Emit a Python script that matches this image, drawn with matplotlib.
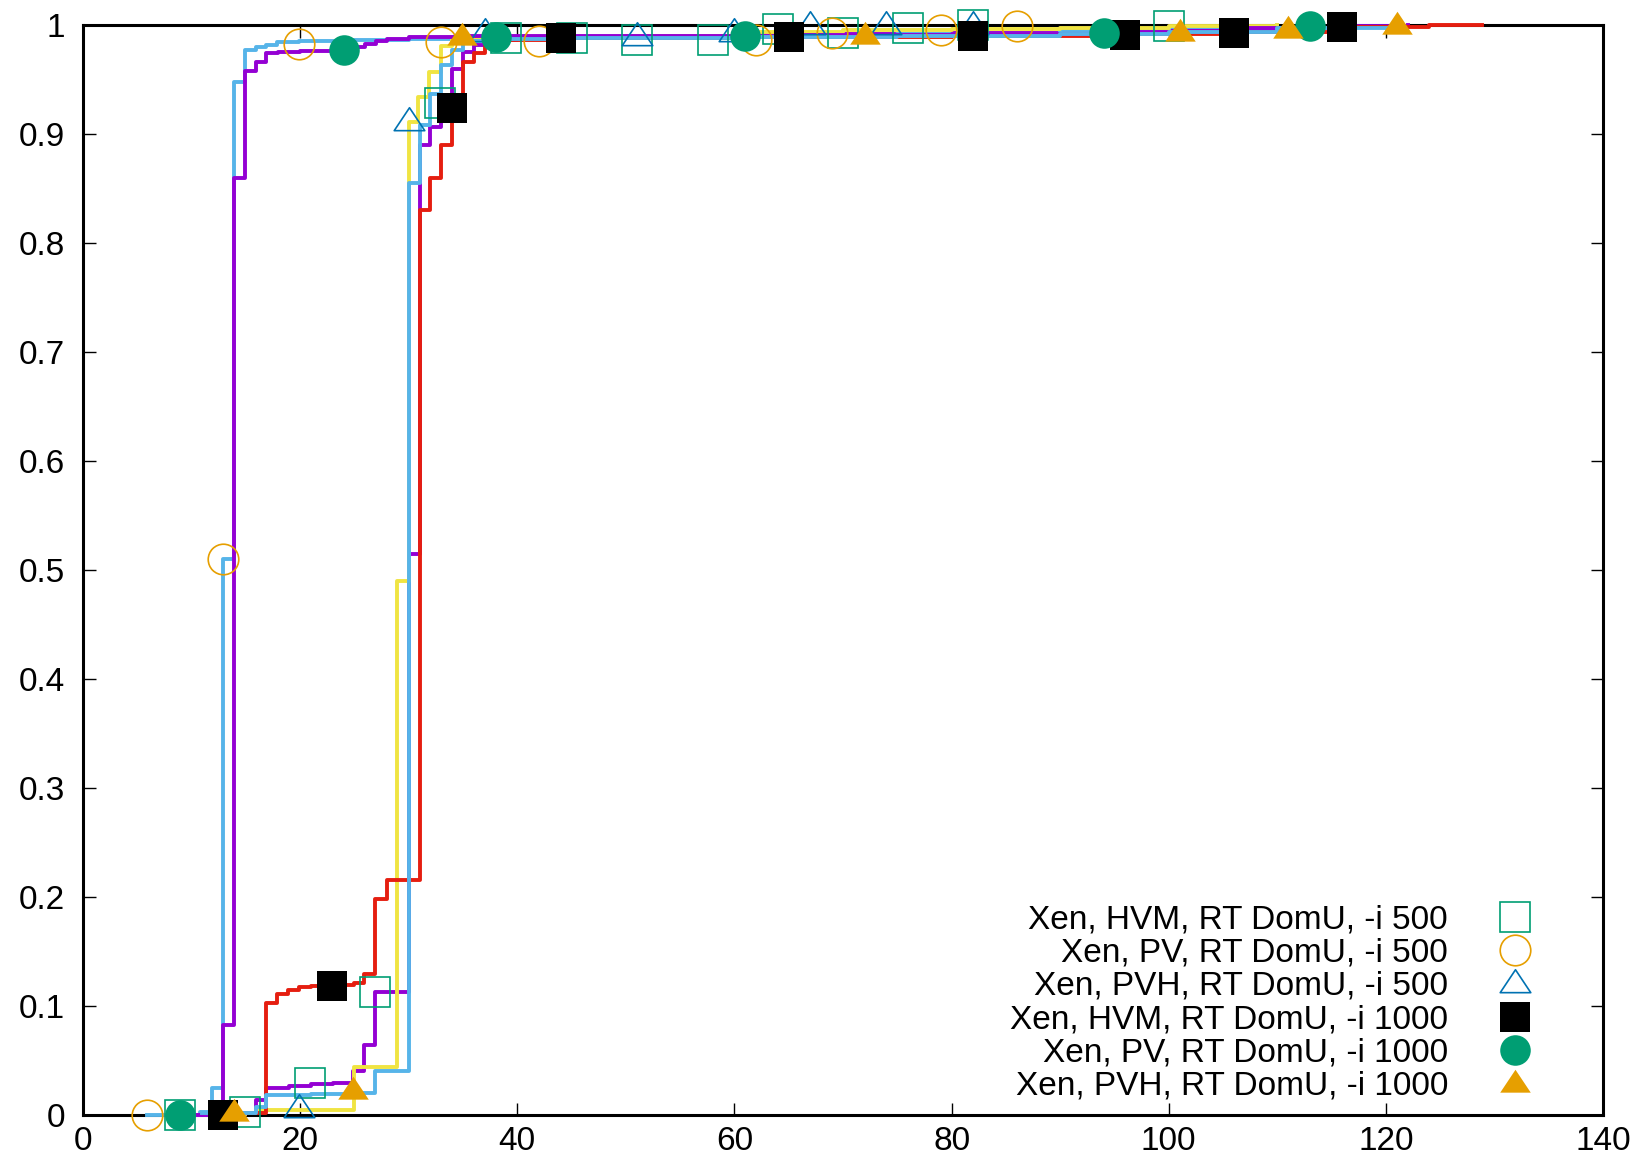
import matplotlib
matplotlib.use("Agg")
import matplotlib.pyplot as plt
from matplotlib.path import Path
from matplotlib.lines import Line2D
from matplotlib.ticker import FuncFormatter, MultipleLocator

plt.rcParams['font.family'] = ['Liberation Sans', 'DejaVu Sans']

# ---------------- data (CDF step curves) ----------------
labels = ["Xen, HVM, RT DomU, -i 500", "Xen, PV, RT DomU, -i 500",
          "Xen, PVH, RT DomU, -i 500", "Xen, HVM, RT DomU, -i 1000",
          "Xen, PV, RT DomU, -i 1000", "Xen, PVH, RT DomU, -i 1000"]

hvm500_x = [8.9, 14.9, 15.9, 16.9, 19, 21, 23, 24.9, 25.9, 26.9, 30, 31, 32, 33, 34, 35, 36, 37, 40, 50, 60, 70, 80, 95, 105, 115, 122]
hvm500_y = [0.0, 0.002, 0.014, 0.025, 0.027, 0.028, 0.029, 0.04, 0.064, 0.113, 0.515, 0.89, 0.906, 0.928, 0.96, 0.975, 0.982, 0.986, 0.988, 0.99, 0.991, 0.992, 0.993, 0.995, 0.997, 0.999, 1.0]

pv500_x = [5.9, 10.8, 11.9, 12.9, 13.9, 14.9, 15.9, 16.9, 17.9, 19.9, 25, 30, 35, 45, 60, 75, 90, 100, 110]
pv500_y = [0.0, 0.003, 0.025, 0.51, 0.948, 0.977, 0.980, 0.982, 0.984, 0.985, 0.986, 0.987, 0.988, 0.989, 0.99, 0.992, 0.995, 0.998, 1.0]

pvh500_x = [13.0, 14.9, 15.9, 25.0, 28.9, 30.0, 30.9, 31.9, 33.0, 34, 36, 40, 50, 60, 70, 80, 90, 100, 110]
pvh500_y = [0.0, 0.002, 0.005, 0.044, 0.49, 0.911, 0.934, 0.957, 0.981, 0.986, 0.988, 0.989, 0.99, 0.994, 0.995, 0.996, 0.997, 0.999, 1.0]

hvm1000_x = [12.9, 16.9, 17.9, 18.9, 19.9, 21, 23, 25, 25.9, 26.9, 28, 31, 32, 33, 34, 35, 36, 37, 38, 45, 60, 80, 95, 105, 115, 124, 128.9]
hvm1000_y = [0.002, 0.103, 0.111, 0.115, 0.117, 0.118, 0.119, 0.121, 0.129, 0.198, 0.216, 0.83, 0.86, 0.89, 0.93, 0.966, 0.974, 0.982, 0.986, 0.988, 0.989, 0.99, 0.992, 0.994, 0.998, 1.0, 1.0]

pv1000_x = [8.9, 12.9, 13.9, 14.9, 15.9, 16.9, 18, 20, 24, 25, 26, 27, 28, 30, 35, 50, 65, 80, 95, 105, 113]
pv1000_y = [0.0, 0.083, 0.86, 0.958, 0.966, 0.974, 0.975, 0.976, 0.978, 0.98, 0.983, 0.985, 0.987, 0.989, 0.99, 0.99, 0.991, 0.992, 0.994, 0.997, 1.0]

pvh1000_x = [11.0, 15.9, 16.9, 21, 24.9, 26.9, 30, 31, 32, 33, 34, 35, 37, 45, 60, 75, 90, 100, 110, 121]
pvh1000_y = [0.002, 0.007, 0.018, 0.019, 0.02, 0.04, 0.855, 0.908, 0.937, 0.963, 0.977, 0.985, 0.987, 0.988, 0.989, 0.99, 0.992, 0.994, 0.997, 1.0]

# ---------------- data (point markers on the curves) ----------------
hvm500_px = [8.9, 14.9, 20.9, 26.9, 32.9, 39, 45, 51, 58, 64, 70, 76, 82, 100]
hvm500_py = [0.0, 0.003, 0.029, 0.113, 0.928, 0.988, 0.988, 0.986, 0.986, 0.996, 0.993, 0.997, 1.0, 0.999]
pv500_px = [5.9, 12.9, 19.9, 33, 42, 62, 69, 79, 86]
pv500_py = [0.0, 0.51, 0.983, 0.984, 0.985, 0.986, 0.993, 0.995, 0.999]
pvh500_px = [19.9, 30, 37, 51, 60, 67, 74, 82]
pvh500_py = [0.006, 0.912, 0.994, 0.99, 0.994, 1.0, 1.0, 1.0]
hvm1000_px = [12.9, 22.9, 34, 44, 65, 82, 96, 106, 116]
hvm1000_py = [0.0, 0.118, 0.924, 0.988, 0.989, 0.99, 0.991, 0.993, 0.998]
pv1000_px = [8.9, 24, 38, 61, 94, 113]
pv1000_py = [0.0, 0.977, 0.989, 0.99, 0.993, 0.999]
pvh1000_px = [13.9, 24.9, 34.9, 72, 101, 111, 121]
pvh1000_py = [0.003, 0.023, 0.99, 0.991, 0.994, 0.996, 1.0]

x_ticks = [0, 20, 40, 60, 80, 100, 120, 140]

# ---------------- styles ----------------
PURPLE, LBLUE, YELLOW, RED = '#9400d3', '#56b4e9', '#f0e442', '#e51e10'
GREEN, ORANGE, BLUE, BLACK = '#009e73', '#e69f00', '#0072b2', '#000000'

tri = Path([(-1, -0.6), (1, -0.6), (0, 0.9), (-1, -0.6)],
           [Path.MOVETO, Path.LINETO, Path.LINETO, Path.CLOSEPOLY])

fig = plt.figure(figsize=(16.42, 11.64), dpi=100)
ax = fig.add_axes([83 / 1642, 1 - 1115 / 1164, 1520 / 1642, 1090 / 1164])

lines = [
    (hvm500_x, hvm500_y, PURPLE),
    (pv500_x, pv500_y, LBLUE),
    (pvh500_x, pvh500_y, YELLOW),
    (hvm1000_x, hvm1000_y, RED),
    (pv1000_x, pv1000_y, PURPLE),
    (pvh1000_x, pvh1000_y, LBLUE),
]
for x, y, c in lines:
    ax.step(x, y, where='post', color=c, lw=2.8, zorder=3, clip_on=False)

ms = 22
points = [
    (hvm500_px, hvm500_py, dict(marker='s', mfc='none', mec=GREEN, mew=1.2)),
    (pv500_px, pv500_py, dict(marker='o', mfc='none', mec=ORANGE, mew=1.2)),
    (pvh500_px, pvh500_py, dict(marker=tri, mfc='none', mec=BLUE, mew=1.2)),
    (hvm1000_px, hvm1000_py, dict(marker='s', mfc=BLACK, mec=BLACK, mew=0)),
    (pv1000_px, pv1000_py, dict(marker='o', mfc=GREEN, mec=GREEN, mew=0)),
    (pvh1000_px, pvh1000_py, dict(marker=tri, mfc=ORANGE, mec=ORANGE, mew=0)),
]
handles = []
for (px, py, st), lab in zip(points, labels):
    ax.plot(px, py, ls='none', ms=ms, zorder=4, clip_on=False, **st)
    handles.append(Line2D([], [], ls='none', ms=ms, **st))

ax.set_xlim(0, 140)
ax.set_ylim(0, 1)
ax.set_xticks(x_ticks)
ax.yaxis.set_major_locator(MultipleLocator(0.1))
ax.yaxis.set_major_formatter(FuncFormatter(lambda v, p: f"{v:.1f}".rstrip('0').rstrip('.') if v not in (0, 1) else f"{int(round(v))}"))
ax.tick_params(direction='in', length=9, width=1.0, top=True, right=True,
               labelsize=24)
ax.tick_params(axis='x', pad=8)
ax.tick_params(axis='y', pad=13)
for s in ax.spines.values():
    s.set_linewidth(2.2)
    s.set_zorder(2.5)

leg = ax.legend(handles, labels, loc='lower right', markerfirst=False,
                frameon=False, fontsize=24, handlelength=2.0,
                handletextpad=1.0, labelspacing=0.07, borderaxespad=0,
                borderpad=0, bbox_to_anchor=(0.9638, 0.012))

fig.savefig("out.png", dpi=100)
